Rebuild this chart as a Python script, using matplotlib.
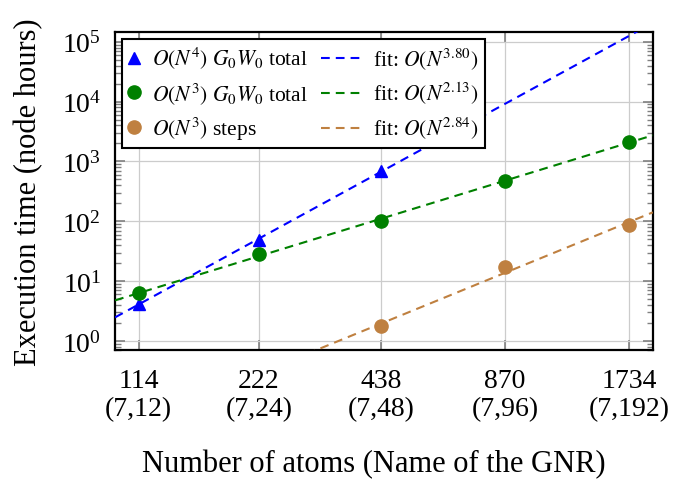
import numpy as np
import matplotlib
matplotlib.use('Agg')
import matplotlib.pyplot as plt
from matplotlib.legend_handler import HandlerLine2D
from matplotlib.ticker import FixedLocator, NullLocator, LogLocator

plt.rcParams['font.family'] = 'serif'
plt.rcParams['font.serif'] = ['Liberation Serif', 'DejaVu Serif']
plt.rcParams['mathtext.fontset'] = 'stix'

# GNR sizes
atoms = [114, 222, 438, 870, 1734]
gnr_names = ['(7,12)', '(7,24)', '(7,48)', '(7,96)', '(7,192)']

# execution times in node hours
n4_atoms = [114, 222, 438]
n4_total = [4.2, 48, 700]
n3_atoms = [114, 222, 438, 870, 1734]
n3_total = [6.2, 28, 100, 480, 2150]
steps_atoms = [438, 870, 1734]
n3_steps = [1.75, 17, 88]

# fitted power-law exponents
p_n4 = 3.80
p_n3 = 2.13
p_steps = 2.84

BLUE = '#0000ff'
GREEN = '#008000'
BROWN = '#bf8040'


class WideDash(HandlerLine2D):
    # longer dashed sample for the fit entries
    def get_xdata(self, legend, xdescent, ydescent, width, height, fontsize):
        return [-xdescent - 2.2 * width, -xdescent + width], [-xdescent + width]


def fit_line(xs, ys, p, xlim):
    # prefactor of c*N^p with the exponent held fixed
    logc = np.mean(np.log10(ys) - p * np.log10(xs))
    xx = np.array(xlim)
    return xx, 10 ** logc * xx ** p


fig = plt.figure(figsize=(6.73, 4.81), dpi=100)
ax = fig.add_axes([0.171, 0.270, 0.799, 0.661])
ax.set_xscale('log')
ax.set_yscale('log')
xlim = (100, 1975)
ax.set_xlim(*xlim)
ax.set_ylim(0.7, 1.45e5)

dash = dict(lw=1.5, dashes=(4.2, 2.9), zorder=3)
fb, = ax.plot(*fit_line(n4_atoms, n4_total, p_n4, xlim), color=BLUE,
              label=r'fit: $O(N^{%.2f})$' % p_n4, **dash)
fg, = ax.plot(*fit_line(n3_atoms, n3_total, p_n3, xlim), color=GREEN,
              label=r'fit: $O(N^{%.2f})$' % p_n3, **dash)
fo, = ax.plot(*fit_line(steps_atoms, n3_steps, p_steps, xlim), color=BROWN,
              label=r'fit: $O(N^{%.2f})$' % p_steps, **dash)

mb, = ax.plot(n4_atoms, n4_total, '^', color=BLUE, ms=9, zorder=4,
              label=r'$O(N^4)\ G_0W_0$ total')
mg, = ax.plot(n3_atoms, n3_total, 'o', color=GREEN, ms=9.5, zorder=4,
              label=r'$O(N^3)\ G_0W_0$ total')
mo, = ax.plot(steps_atoms, n3_steps, 'o', color=BROWN, ms=9.5, zorder=4,
              label=r'$O(N^3)$ steps')

ax.xaxis.set_major_locator(FixedLocator(atoms))
ax.xaxis.set_minor_locator(NullLocator())
ax.set_xticklabels([f'{a}\n{n}' for a, n in zip(atoms, gnr_names)],
                   linespacing=1.15)
ax.yaxis.set_major_locator(LogLocator(base=10, numticks=10))
ax.yaxis.set_minor_locator(LogLocator(base=10, subs=np.arange(2, 10), numticks=10))

ax.grid(True, which='major', color='#cccccc', lw=0.9, zorder=0)
ax.set_axisbelow(True)
ax.tick_params(which='both', direction='in', top=True, right=True,
               color='#808080', labelsize=20)
ax.tick_params(which='major', length=7, width=1.2, pad=10)
ax.tick_params(axis='x', which='major', pad=13)
ax.tick_params(which='minor', length=4.5, width=1.0)
for s in ax.spines.values():
    s.set_linewidth(1.6)

ax.set_xlabel('Number of atoms (Name of the GNR)', fontsize=22)
ax.xaxis.set_label_coords(0.482, -0.312)
ax.xaxis.label.set_va('top')
ax.set_ylabel('Execution time (node hours)', fontsize=22, labelpad=13)

leg = ax.legend([mb, mg, mo, fb, fg, fo],
                [h.get_label() for h in (mb, mg, mo, fb, fg, fo)],
                loc='upper left', ncol=2, fontsize=15.5, handlelength=0.6,
                handletextpad=0.5, columnspacing=1.95, borderpad=0.3,
                borderaxespad=0.3, labelspacing=0.4, fancybox=False,
                framealpha=1, edgecolor='black',
                handler_map={fb: WideDash(), fg: WideDash(), fo: WideDash()})
leg.get_frame().set_linewidth(1.5)

fig.savefig('out.png', dpi=100)
